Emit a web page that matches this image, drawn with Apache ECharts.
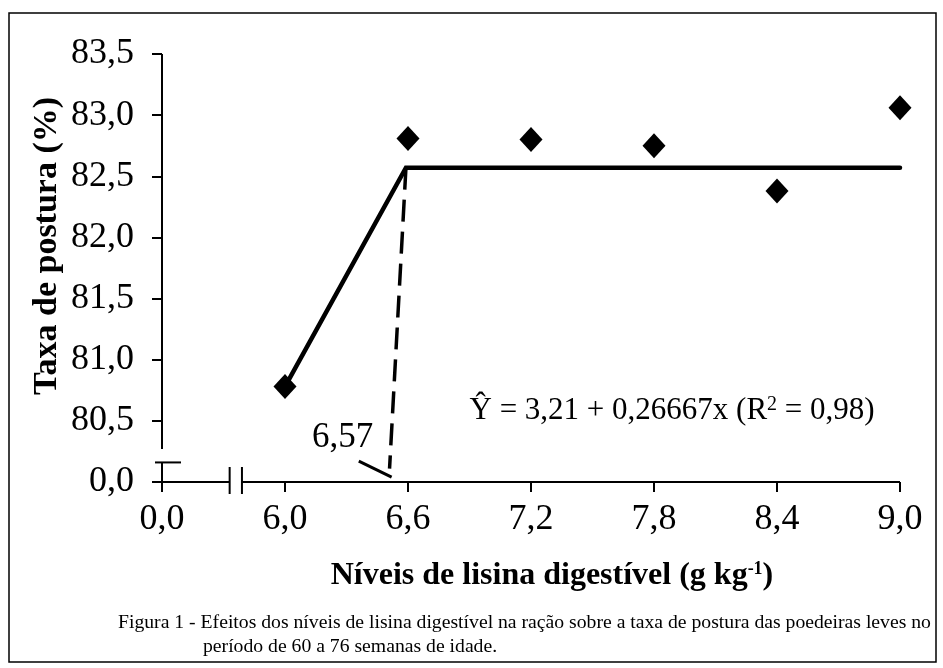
<!DOCTYPE html>
<html><head><meta charset="utf-8">
<script src="https://cdn.jsdelivr.net/npm/echarts@6/dist/echarts.min.js"></script>
<style>html,body{margin:0;padding:0;background:#fff}#c{width:943px;height:668px}</style>
</head><body><div id="c"></div>
<script>
// ---- data ----
const lysineLevels = [6.0, 6.6, 7.2, 7.8, 8.4, 9.0];
const layingRate = [80.78, 82.81, 82.80, 82.75, 82.38, 83.06];
const plateauX = [6.0, 6.59, 9.0];
const plateauY = [80.78, 82.57, 82.57];
const dropX = [6.59, 6.51];
const dropY = [82.57, 80.11];
const leaderX = [6.36, 6.52];
const leaderY = [80.17, 80.04];
const breakpointLabel = '6,57';
const equationText = 'Ŷ = 3,21 + 0,26667x (R{sup|2} = 0,98)';
const equationAt = [6.90, 80.58];
const breakpointLabelAt = [6.44, 80.36];
// axis: first tick stands for the broken origin "0,0"
const xMin = 5.4, xMax = 9.0, xStep = 0.6;
const yMin = 80.0, yMax = 83.5, yStep = 0.5;
const xGap = [5.73, 5.79];
const yGap = [80.16, 80.27];
const xTitle = 'Níveis de lisina digestível (g kg{sup|-1})';
const yTitle = 'Taxa de postura (%)';
const captionLines = ['Figura 1 - Efeitos dos níveis de lisina digestível na ração sobre a taxa de postura das poedeiras leves no',
                      'período de 60 a 76 semanas de idade.'];

const FONT = '"Liberation Serif", "Times New Roman", serif';
const fmt = (v, origin) => Math.abs(v - origin) < 1e-6 ? '0,0' : v.toFixed(1).replace('.', ',');
const zip = (a, b) => a.map((v, i) => [v, b[i]]);

const chart = echarts.init(document.getElementById('c'), null, {renderer: 'canvas'});
const option = {
  animation: false,
  backgroundColor: '#fff',
  grid: {left: 162, right: 43, top: 54, bottom: 186, containLabel: false},
  xAxis: {
    type: 'value', min: xMin, max: xMax, interval: xStep,
    axisLine: {show: false},
    axisTick: {show: true, inside: false, length: 10, lineStyle: {color: '#000', width: 2}},
    axisLabel: {color: '#000', fontFamily: FONT, fontSize: 36, margin: 20, formatter: v => fmt(v, xMin)},
    splitLine: {show: false}
  },
  yAxis: {
    type: 'value', min: yMin, max: yMax, interval: yStep,
    axisLine: {show: false},
    axisTick: {show: true, inside: false, length: 10, lineStyle: {color: '#000', width: 2}},
    axisLabel: {color: '#000', fontFamily: FONT, fontSize: 36, margin: 28, formatter: v => fmt(v, yMin)},
    splitLine: {show: false}
  },
  series: [
    {type: 'line', data: zip(plateauX, plateauY), symbol: 'none', lineStyle: {color: '#000', width: 4.5, cap: 'round', join: 'miter'}, z: 2},
    {type: 'line', data: zip(dropX, dropY), symbol: 'none', lineStyle: {color: '#000', width: 3.5, type: [22, 10]}, z: 2},
    {type: 'line', data: zip(leaderX, leaderY), symbol: 'none', lineStyle: {color: '#000', width: 3}, z: 2},
    {type: 'scatter', data: zip(lysineLevels, layingRate), symbol: 'diamond', symbolSize: [23, 25], itemStyle: {color: '#000', opacity: 1}, z: 3}
  ]
};
chart.setOption(option);

function px(x, y) { return chart.convertToPixel({gridIndex: 0}, [x, y]); }
function seg(a, b, w) { return {type: 'line', shape: {x1: a[0], y1: a[1], x2: b[0], y2: b[1]}, style: {stroke: '#000', lineWidth: w || 2}, z: 10}; }

const pO = px(xMin, yMin), pTop = px(xMin, yMax), pXe = px(xMax, yMin);
const g1 = px(xGap[0], yMin), g2 = px(xGap[1], yMin);
const yLow = px(xMin, yGap[0]), yHigh = px(xMin, yGap[1]);
const eq = px(equationAt[0], equationAt[1]);
const bl = px(breakpointLabelAt[0], breakpointLabelAt[1]);
const graphics = [
  {type: 'rect', shape: {x: 9, y: 13, width: 927, height: 649}, style: {fill: null, stroke: '#000', lineWidth: 1.5}, z: 0},
  seg(pTop, yHigh), seg(yLow, pO),
  seg(pO, g1), seg(g2, pXe),
  seg([g1[0], pO[1] - 15], [g1[0], pO[1] + 12]),
  seg([g2[0], pO[1] - 15], [g2[0], pO[1] + 12]),
  seg([pO[0] - 7, yLow[1]], [pO[0] + 19, yLow[1]]),
  {type: 'text', x: eq[0], y: eq[1], z: 10, style: {text: equationText, fontFamily: FONT, fontSize: 31, fill: '#000', verticalAlign: 'middle',
     rich: {sup: {fontFamily: FONT, fontSize: 20, verticalAlign: 'top', padding: [0, 0, 12, 0]}}}},
  {type: 'text', x: bl[0] - 2, y: bl[1], z: 10, style: {text: breakpointLabel, fontFamily: FONT, fontSize: 35, fill: '#000', align: 'right', verticalAlign: 'middle'}},
  {type: 'text', x: 552, y: 576, z: 10, style: {text: xTitle, fontFamily: FONT, fontWeight: 'bold', fontSize: 32, fill: '#000', align: 'center', verticalAlign: 'middle',
     rich: {sup: {fontFamily: FONT, fontWeight: 'bold', fontSize: 18, padding: [0, 0, 14, 0]}}}},
  {type: 'text', x: 47, y: 246, rotation: Math.PI / 2, z: 10, style: {text: yTitle, fontFamily: FONT, fontWeight: 'bold', fontSize: 34, fill: '#000', align: 'center', verticalAlign: 'middle'}},
  {type: 'text', x: 118, y: 623, z: 10, style: {text: captionLines[0], fontFamily: FONT, fontSize: 19.7, fill: '#000', verticalAlign: 'middle'}},
  {type: 'text', x: 203, y: 647, z: 10, style: {text: captionLines[1], fontFamily: FONT, fontSize: 19.7, fill: '#000', verticalAlign: 'middle'}}
];
chart.setOption({graphic: graphics});
</script>
</body></html>
